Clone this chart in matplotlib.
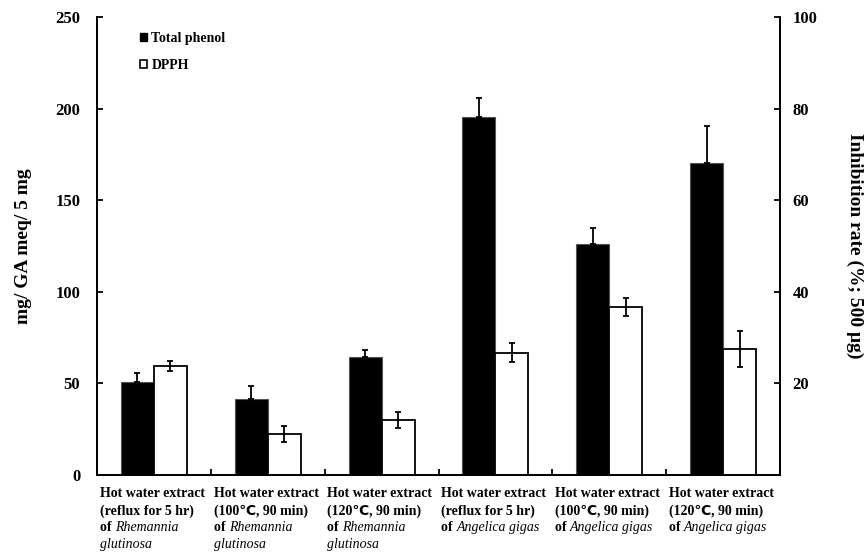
import matplotlib
matplotlib.use("Agg")
import matplotlib.pyplot as plt
from matplotlib.patches import Patch
import numpy as np

plt.rcParams['font.family'] = ['Liberation Serif', 'DejaVu Sans']
plt.rcParams['font.weight'] = 'bold'

label_line1 = ["Hot water extract"] * 6
label_line2 = ["(reflux for 5 hr)", "(100\u2103, 90 min)", "(120\u2103, 90 min)",
               "(reflux for 5 hr)", "(100\u2103, 90 min)", "(120\u2103, 90 min)"]
label_species1 = ["Rhemannia", "Rhemannia", "Rhemannia",
                  "Angelica gigas", "Angelica gigas", "Angelica gigas"]
label_species2 = ["glutinosa", "glutinosa", "glutinosa", "", "", ""]

total_phenol = [51.0, 41.5, 64.4, 195.6, 125.9, 170.1]
total_phenol_err = [4.5, 7.0, 4.0, 10.0, 9.0, 20.5]
dpph = [23.8, 9.0, 12.0, 26.7, 36.7, 27.5]
dpph_err = [1.0, 1.7, 1.7, 2.1, 2.0, 4.0]

left_ticks = [0, 50, 100, 150, 200, 250]
right_ticks = [20, 40, 60, 80, 100]

fig = plt.figure(figsize=(8.67, 5.53), dpi=100)
ax = fig.add_axes([97/867, 1-475/553, (780-97)/867, (475-17)/553])
ax2 = ax.twinx()

x = np.arange(len(total_phenol))
w = 0.29

ax.bar(x - w/2, total_phenol, width=w, color='black', edgecolor='#555555', linewidth=0.8, zorder=2)
ax.errorbar(x - w/2, total_phenol, yerr=[np.zeros(len(x)), total_phenol_err], fmt='none',
            ecolor='black', elinewidth=1.3, capsize=2.3, capthick=1.3, zorder=3)

ax2.bar(x + w/2, dpph, width=w, color='white', edgecolor='black', linewidth=1.3, zorder=2)
ax2.errorbar(x + w/2, dpph, yerr=dpph_err, fmt='none',
             ecolor='black', elinewidth=1.3, capsize=2.3, capthick=1.3, zorder=3)

ax.set_xlim(-0.5, len(x) - 0.5)
ax.set_ylim(0, 250)
ax2.set_ylim(0, 100)

for a in (ax, ax2):
    a.spines['top'].set_visible(False)
    for s in a.spines.values():
        s.set_linewidth(1.3)
        s.set_color('black')

ax.set_yticks(left_ticks)
ax.set_yticklabels([str(t) for t in left_ticks], fontsize=12, fontweight='bold')
ax.tick_params(axis='y', direction='in', length=4, width=1.3, pad=12)
ax2.set_yticks(right_ticks)
ax2.set_yticklabels([str(t) for t in right_ticks], fontsize=12, fontweight='bold')
ax2.tick_params(axis='y', direction='in', length=4, width=1.3, pad=9)

ax.set_xticks(np.arange(len(x) + 1) - 0.5)
ax.set_xticklabels([])
ax.tick_params(axis='x', direction='in', length=4, width=1.3)

ax.set_ylabel("mg/ GA meq/ 5 mg", fontsize=14, fontweight='bold', labelpad=17)
ax2.set_ylabel("Inhibition rate (%; 500 \u03bcg)", fontsize=14, fontweight='bold',
               rotation=270, labelpad=33)

trans = ax.get_xaxis_transform()
fs = 10
line_pt = 12.3
top_pt = 8.8
for i in range(len(x)):
    xl = i - 0.5
    ax.annotate(label_line1[i], xy=(xl, 0), xycoords=trans, xytext=(2, -top_pt),
                textcoords='offset points', ha='left', va='top', fontsize=fs,
                fontweight='bold', annotation_clip=False)
    ax.annotate(label_line2[i], xy=(xl, 0), xycoords=trans, xytext=(2, -top_pt - line_pt),
                textcoords='offset points', ha='left', va='top', fontsize=fs,
                fontweight='bold', annotation_clip=False)
    t_of = ax.annotate("of ", xy=(xl, 0), xycoords=trans, xytext=(2, -top_pt - 2*line_pt),
                       textcoords='offset points', ha='left', va='top', fontsize=fs,
                       fontweight='bold', annotation_clip=False)
    ax.annotate(label_species1[i], xy=(1, 0), xycoords=t_of, ha='left', va='bottom',
                fontsize=fs, fontweight='normal', fontstyle='italic', annotation_clip=False)
    if label_species2[i]:
        ax.annotate(label_species2[i], xy=(xl, 0), xycoords=trans, xytext=(2, -top_pt - 3*line_pt),
                    textcoords='offset points', ha='left', va='top', fontsize=fs,
                    fontweight='normal', fontstyle='italic', annotation_clip=False)

handles = [Patch(facecolor='black', edgecolor='black', linewidth=1.0),
           Patch(facecolor='white', edgecolor='black', linewidth=1.2)]
leg = ax2.legend(handles, ["Total phenol", "DPPH"], loc='upper left',
                 bbox_to_anchor=(0.045, 0.995), frameon=False,
                 handlelength=0.5, handleheight=0.5, handletextpad=0.3, labelspacing=1.0,
                 prop={'weight': 'bold', 'size': 10})

fig.savefig("out.png", dpi=100)
